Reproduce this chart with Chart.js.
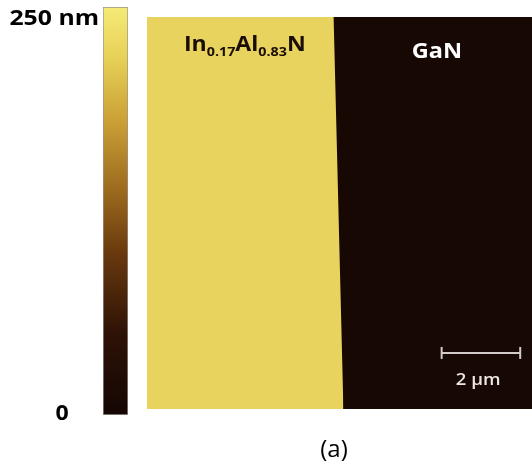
<!DOCTYPE html>
<html>
<head>
<meta charset="utf-8">
<script src="https://cdn.jsdelivr.net/npm/chart.js@4"></script>
<style>
  html, body { margin: 0; padding: 0; background: #fff; }
  #wrap { position: relative; width: 532px; height: 469px; overflow: hidden; }
  #wrap canvas { position: absolute; left: 0; top: 0; }
</style>
</head>
<body>
<div id="wrap">
  <canvas id="afm" width="532" height="469"></canvas>
  <canvas id="bar" width="140" height="469"></canvas>
</div>
<script>
// height scale of the colour bar (nm)
const heightRange = [0, 250];
const heightTickLabels = ['0', '250 nm'];

// InAlN stripe outline in scan coordinates (µm), filled down to y = 0
const inalnEdgeX = [0, 4.75, 5.0];
const inalnEdgeY = [10, 10, 0];

// 2 µm scale bar
const scaleBarX = [7.5, 9.5];
const scaleBarY = [1.43, 1.43];

// region labels
const regionNames = ['In', '0.17', 'Al', '0.83', 'N'];
const regionNamePos = [2.49, 9.13];
const ganName = 'GaN';
const ganNamePos = [7.38, 8.95];
const scaleBarLabel = '2 µm';
const scaleBarLabelPos = [8.43, 0.61];
const panelLabel = '(a)';

const yellow = '#e8d35e';
const dark = '#170804';
const boldFont = '"Open Sans", "DejaVu Sans", sans-serif';

// draw text stretched horizontally (the figure is a bit wide)
function wideText(ctx, text, x, y, sx, align) {
  const w = ctx.measureText(text).width * sx;
  let left = x;
  if (align === 'center') left = x - w / 2;
  if (align === 'right') left = x - w;
  ctx.save();
  ctx.textAlign = 'left';
  ctx.translate(left, y);
  ctx.scale(sx, 1);
  ctx.fillText(text, 0, 0);
  ctx.restore();
  return w;
}

// --- AFM image ---
const afmCtx = document.getElementById('afm').getContext('2d');

const afmDecor = {
  id: 'afmDecor',
  beforeDatasetsDraw(chart) {
    const { ctx, chartArea: a } = chart;
    ctx.save();
    ctx.fillStyle = dark;
    ctx.fillRect(a.left, a.top, a.right - a.left, a.bottom - a.top);
    ctx.restore();
  },
  afterDatasetsDraw(chart) {
    const { ctx, scales: { x, y } } = chart;
    ctx.save();
    ctx.textBaseline = 'alphabetic';

    // In0.17Al0.83N with subscripts
    const sx = 1.1;
    const big = 'bold 21px ' + boldFont;
    const small = 'bold 13px ' + boldFont;
    const widths = regionNames.map((t, i) => {
      ctx.font = i % 2 ? small : big;
      return ctx.measureText(t).width * sx;
    });
    const total = widths.reduce((s, w) => s + w, 0);
    let px = x.getPixelForValue(regionNamePos[0]) - total / 2;
    const py = y.getPixelForValue(regionNamePos[1]);
    ctx.fillStyle = '#1a0d04';
    regionNames.forEach((t, i) => {
      ctx.font = i % 2 ? small : big;
      wideText(ctx, t, px, i % 2 ? py + 5 : py, sx, 'left');
      px += widths[i];
    });

    // GaN
    ctx.fillStyle = '#ffffff';
    ctx.font = 'bold 21px ' + boldFont;
    wideText(ctx, ganName, x.getPixelForValue(ganNamePos[0]), y.getPixelForValue(ganNamePos[1]), 1.12, 'center');

    // scale bar label
    ctx.fillStyle = '#ece6e2';
    ctx.font = '600 16px ' + boldFont;
    wideText(ctx, scaleBarLabel, x.getPixelForValue(scaleBarLabelPos[0]), y.getPixelForValue(scaleBarLabelPos[1]), 1.15, 'center');

    // panel label
    ctx.fillStyle = '#000';
    ctx.font = '24px ' + boldFont;
    wideText(ctx, panelLabel, 334, 457, 1.0, 'center');
    ctx.restore();
  }
};

new Chart(afmCtx, {
  type: 'line',
  data: {
    datasets: [
      {
        label: 'InAlN',
        data: inalnEdgeX.map((v, i) => ({ x: v, y: inalnEdgeY[i] })),
        borderWidth: 0,
        borderColor: yellow,
        backgroundColor: yellow,
        pointRadius: 0,
        fill: 'origin',
        tension: 0
      },
      {
        label: 'scale bar',
        data: scaleBarX.map((v, i) => ({ x: v, y: scaleBarY[i] })),
        borderColor: '#d2cac6',
        borderWidth: 2,
        pointStyle: 'line',
        rotation: 90,
        pointRadius: 6,
        pointBorderWidth: 2,
        pointBorderColor: '#d2cac6',
        fill: false
      }
    ]
  },
  options: {
    responsive: false,
    animation: false,
    layout: { autoPadding: false, padding: { left: 147, top: 17, right: 0, bottom: 60 } },
    plugins: { legend: { display: false }, tooltip: { enabled: false } },
    scales: {
      x: { type: 'linear', min: 0, max: 9.8, display: false },
      y: { type: 'linear', min: 0, max: 10, display: false }
    }
  },
  plugins: [afmDecor]
});

// --- colour bar ---
const barCtx = document.getElementById('bar').getContext('2d');

function barGradient(context) {
  const { ctx, chartArea: a } = context.chart;
  if (!a) return dark;
  const g = ctx.createLinearGradient(0, a.bottom, 0, a.top);
  g.addColorStop(0.0, '#140604');
  g.addColorStop(0.2, '#2e1206');
  g.addColorStop(0.4, '#6a3a0e');
  g.addColorStop(0.55, '#9c6a1e');
  g.addColorStop(0.72, '#caa036');
  g.addColorStop(0.88, '#e8d258');
  g.addColorStop(1.0, '#f4ea78');
  return g;
}

const barLabels = {
  id: 'barLabels',
  afterDatasetsDraw(chart) {
    const { ctx, scales: { y } } = chart;
    ctx.save();
    ctx.fillStyle = '#000';
    ctx.font = 'bold 21px ' + boldFont;
    ctx.textBaseline = 'alphabetic';
    wideText(ctx, heightTickLabels[1], 99, y.getPixelForValue(heightRange[1]) + 18, 1.18, 'right');
    wideText(ctx, heightTickLabels[0], 62, y.getPixelForValue(heightRange[0]) + 5, 1.1, 'center');
    ctx.restore();
  }
};

new Chart(barCtx, {
  type: 'bar',
  data: {
    labels: ['height'],
    datasets: [{
      data: [heightRange],
      backgroundColor: barGradient,
      borderColor: '#9a9490',
      borderWidth: 1,
      borderSkipped: false,
      barPercentage: 1,
      categoryPercentage: 1
    }]
  },
  options: {
    responsive: false,
    animation: false,
    layout: { padding: { left: 103, top: 7, right: 12, bottom: 54 } },
    plugins: { legend: { display: false }, tooltip: { enabled: false } },
    scales: {
      x: { display: false },
      y: { min: heightRange[0], max: heightRange[1], display: false }
    }
  },
  plugins: [barLabels]
});
</script>
</body>
</html>
